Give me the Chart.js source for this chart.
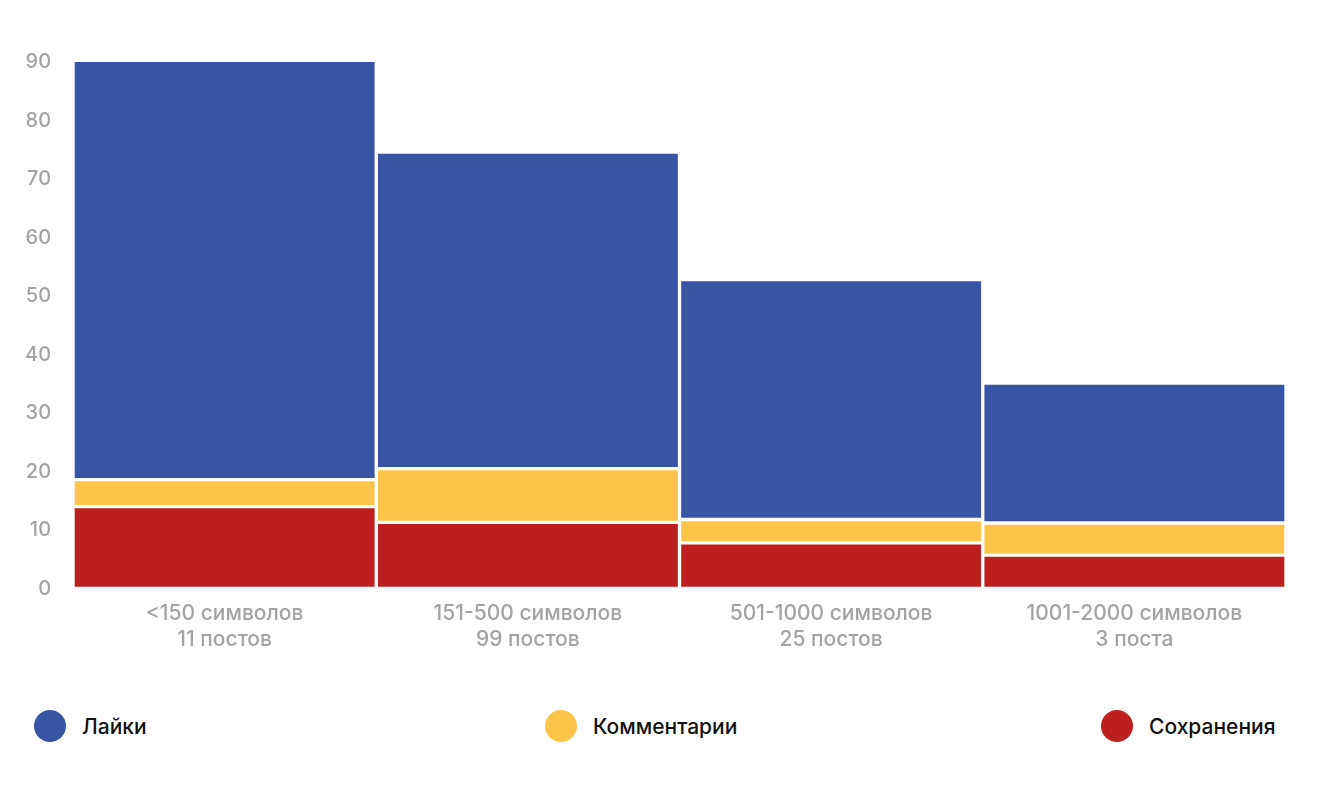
<!DOCTYPE html>
<html>
<head>
<meta charset="utf-8">
<script src="https://cdn.jsdelivr.net/npm/chart.js@4"></script>
<style>
    body { margin: 0; background: #fff; font-family: Inter, "Noto Sans", sans-serif; }
    #wrap { position: relative; width: 1340px; height: 680px; }
    .legend { position: absolute; top: 710px; display: flex; align-items: center; font-size: 21px; font-weight: 500; color: #111; }
    .legend span.dot { width: 32px; height: 32px; border-radius: 50%; display: inline-block; margin-right: 16px; }
</style>
</head>
<body>
<div id="wrap"><canvas id="chart"></canvas></div>
<div class="legend" style="left:34px"><span class="dot" style="background:#3855A3"></span>Лайки</div>
<div class="legend" style="left:545px"><span class="dot" style="background:#FFC54A"></span>Комментарии</div>
<div class="legend" style="left:1101px"><span class="dot" style="background:#BB1F1E"></span>Сохранения</div>
<script>
const categories = [
    ['<150 символов', '11 постов'],
    ['151-500 символов', '99 постов'],
    ['501-1000 символов', '25 постов'],
    ['1001-2000 символов', '3 поста']
];
const saves = [14.0, 11.3, 7.8, 5.7];      // Сохранения
const comments = [4.6, 9.2, 4.0, 5.5];     // Комментарии
const likes = [71.7, 54.1, 41.0, 23.9];    // Лайки
const yTicks = [0, 10, 20, 30, 40, 50, 60, 70, 80, 90];

const ctx = document.getElementById('chart').getContext('2d');
new Chart(ctx, {
    type: 'bar',
    data: {
        labels: categories,
        datasets: [
            { label: 'Сохранения', data: saves, backgroundColor: '#BB1F1E' },
            { label: 'Комментарии', data: comments, backgroundColor: '#FFC54A' },
            { label: 'Лайки', data: likes, backgroundColor: '#3855A3' }
        ].map(d => Object.assign(d, {
            borderColor: '#ffffff',
            borderWidth: 2,
            borderSkipped: false,
            barPercentage: 1,
            categoryPercentage: 1,
            clip: false
        }))
    },
    options: {
        responsive: true,
        maintainAspectRatio: false,
        animation: false,
        layout: { padding: { top: 62, right: 54, left: 11, bottom: 23 } },
        plugins: { legend: { display: false }, tooltip: { enabled: false } },
        scales: {
            x: {
                stacked: true,
                grid: { display: false },
                border: { display: false },
                ticks: { color: '#a3a3a3', font: { family: 'Inter', size: 21, weight: 500, lineHeight: 1.25 }, padding: 4 }
            },
            y: {
                stacked: true,
                min: 0,
                max: 90,
                grid: { display: false },
                border: { display: false },
                afterBuildTicks: axis => { axis.ticks = yTicks.map(v => ({ value: v })); },
                ticks: { color: '#a3a3a3', font: { family: 'Inter', size: 20, weight: 500 }, padding: 14 }
            }
        }
    }
});
</script>
</body>
</html>
